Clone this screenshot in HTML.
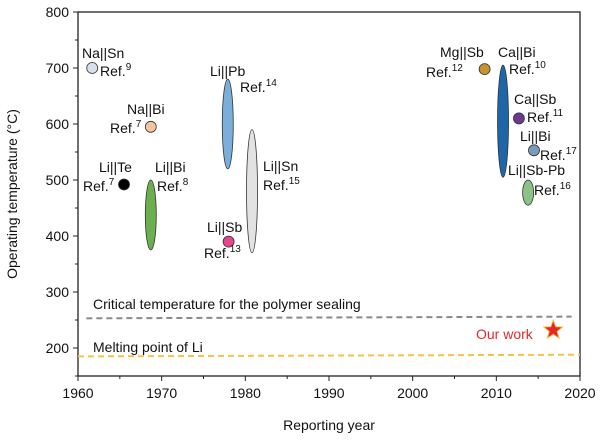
<!DOCTYPE html>
<html><head><meta charset="utf-8"><style>
body{margin:0;background:#fff}
svg text{font-family:"Liberation Sans",Arial,sans-serif}
</style></head><body>
<svg id="c" width="600" height="436" xmlns="http://www.w3.org/2000/svg"></svg>
<script>
const xTicks=[1960,1970,1980,1990,2000,2010,2020];
const yTicks=[200,300,400,500,600,700,800];
const circleNames=['Na||Sn','Na||Bi','Li||Te','Li||Sb','Mg||Sb','Ca||Sb','Li||Bi 2014'];
const circleYears=[1961.7,1968.7,1965.5,1978,2008.6,2012.7,2014.5];
const circleTemps=[700,595,492,390,698,610,553];
const circleColors=['#d6e1eb','#f3c4a2','#000000','#e8468c','#c8922c','#6b3990','#7b99bd'];
const ellNames=['Li||Bi 1969','Li||Pb','Li||Sn','Ca||Bi','Li||Sb-Pb'];
const ellYears=[1968.7,1977.9,1980.8,2010.8,2013.8];
const ellLow=[375,520,370,505,455];
const ellHigh=[500,680,590,705,500];
const ellColors=['#6bb04e','#7aaedb','#e2e2e2','#1f66a8','#8dc286'];
const starYear=2016.8, starTemp=232;
const sealYears=[1961,2019], sealTemps=[253,256];
const meltYears=[1960,2020], meltTemps=[185,188];

const X0=78,X1=580,Y0=12,YB=376;
const x=v=>X0+(v-1960)/60*(X1-X0);
const y=v=>Y0+(800-v)*0.56;
const svg=document.getElementById('c');
const NS='http://www.w3.org/2000/svg';
function mk(t,a,p){const e=document.createElementNS(NS,t);for(const k in a)e.setAttribute(k,a[k]);(p||svg).appendChild(e);return e;}

const box=mk('rect',{x:X0,y:Y0,width:X1-X0,height:YB-Y0,fill:'none',stroke:'#222','stroke-width':1.3});


xTicks.forEach((t,i)=>{
  const tk=mk('line',{x1:x(t),x2:x(t),y1:YB,y2:YB+5,stroke:'#222'});
  
  
  if(i<xTicks.length-1){const m=mk('line',{x1:x(t+5),x2:x(t+5),y1:YB,y2:YB+3,stroke:'#222'});
  
  }
  const l=mk('text',{x:x(t),y:YB+22,'text-anchor':'middle','font-size':14,fill:'#111'});l.textContent=t;
  
  
});
for(let v=150;v<=800;v+=50){
  const major=v%100===0;
  const tk=mk('line',{x1:X0-(major?5:3),x2:X0,y1:y(v),y2:y(v),stroke:'#222'});
  
  
}
yTicks.forEach(t=>{
  const l=mk('text',{x:X0-9,y:y(t)+5,'text-anchor':'end','font-size':14,fill:'#111'});l.textContent=t;
  
  
});
let t=mk('text',{x:(X0+X1)/2,y:430,'text-anchor':'middle','font-size':14,fill:'#111'});t.textContent='Reporting year';

t=mk('text',{x:0,y:0,'text-anchor':'middle','font-size':14,fill:'#111',transform:`translate(17,${(Y0+YB)/2}) rotate(-90)`});t.textContent='Operating temperature (°C)';


let ln=mk('line',{x1:x(sealYears[0]),x2:x(sealYears[1]),y1:y(sealTemps[0]),y2:y(sealTemps[1]),stroke:'#8a8a8a','stroke-width':2,'stroke-dasharray':'6,4'});

ln=mk('line',{x1:x(meltYears[0]),x2:x(meltYears[1]),y1:y(meltTemps[0]),y2:y(meltTemps[1]),stroke:'#f5c542','stroke-width':2,'stroke-dasharray':'6,4'});


ellYears.forEach((yr,i)=>{
  const cy=(y(ellLow[i])+y(ellHigh[i]))/2, ry=(y(ellLow[i])-y(ellHigh[i]))/2;
  const e=mk('ellipse',{cx:x(yr),cy:cy,rx:5.5,ry:ry,fill:ellColors[i],stroke:'#333','stroke-width':0.8});
  
  
});
circleYears.forEach((yr,i)=>{
  const c=mk('circle',{cx:x(yr),cy:y(circleTemps[i]),r:5.5,fill:circleColors[i],stroke:'#333','stroke-width':0.8});
  
  
});
(function(){
  const cx=x(starYear),cy=y(starTemp),R=10,r=4.2;let p=[];
  for(let k=0;k<10;k++){const a=-Math.PI/2+k*Math.PI/5,rr=k%2?r:R;p.push((cx+rr*Math.cos(a)).toFixed(1)+','+(cy+rr*Math.sin(a)).toFixed(1));}
  const s=mk('polygon',{points:p.join(' '),fill:'#e8262a',stroke:'#f5c542','stroke-width':1});
  
})();
</script>
<svg style="position:absolute;left:0;top:0" width="600" height="436" font-size="14">
<g font-family="Liberation Sans, Arial, sans-serif" fill="#111">
<text x="82" y="58">Na||Sn</text>
<text x="100" y="76">Ref.<tspan font-size="10" dy="-6">9</tspan></text>
<text x="127" y="114">Na||Bi</text>
<text x="110" y="133">Ref.<tspan font-size="10" dy="-6">7</tspan></text>
<text x="99" y="172">Li||Te</text>
<text x="83" y="191">Ref.<tspan font-size="10" dy="-6">7</tspan></text>
<text x="155" y="172">Li||Bi</text>
<text x="157" y="191">Ref.<tspan font-size="10" dy="-6">8</tspan></text>
<text x="210" y="76">Li||Pb</text>
<text x="240" y="92">Ref.<tspan font-size="10" dy="-6">14</tspan></text>
<text x="263" y="171">Li||Sn</text>
<text x="263" y="190">Ref.<tspan font-size="10" dy="-6">15</tspan></text>
<text x="207" y="232">Li||Sb</text>
<text x="204" y="258">Ref.<tspan font-size="10" dy="-6">13</tspan></text>
<text x="440" y="57">Mg||Sb</text>
<text x="426" y="77">Ref.<tspan font-size="10" dy="-6">12</tspan></text>
<text x="498" y="57">Ca||Bi</text>
<text x="509" y="74">Ref.<tspan font-size="10" dy="-6">10</tspan></text>
<text x="514" y="104">Ca||Sb</text>
<text x="527" y="122">Ref.<tspan font-size="10" dy="-6">11</tspan></text>
<text x="520" y="141">Li||Bi</text>
<text x="540" y="160">Ref.<tspan font-size="10" dy="-6">17</tspan></text>
<text x="508" y="175">Li||Sb-Pb</text>
<text x="534" y="195">Ref.<tspan font-size="10" dy="-6">16</tspan></text>
<text x="93" y="309">Critical temperature for the polymer sealing</text>
<text x="93" y="352">Melting point of Li</text>
<text x="476" y="339" style="fill:#e8262a">Our work</text>
</g></svg>
</body></html>
